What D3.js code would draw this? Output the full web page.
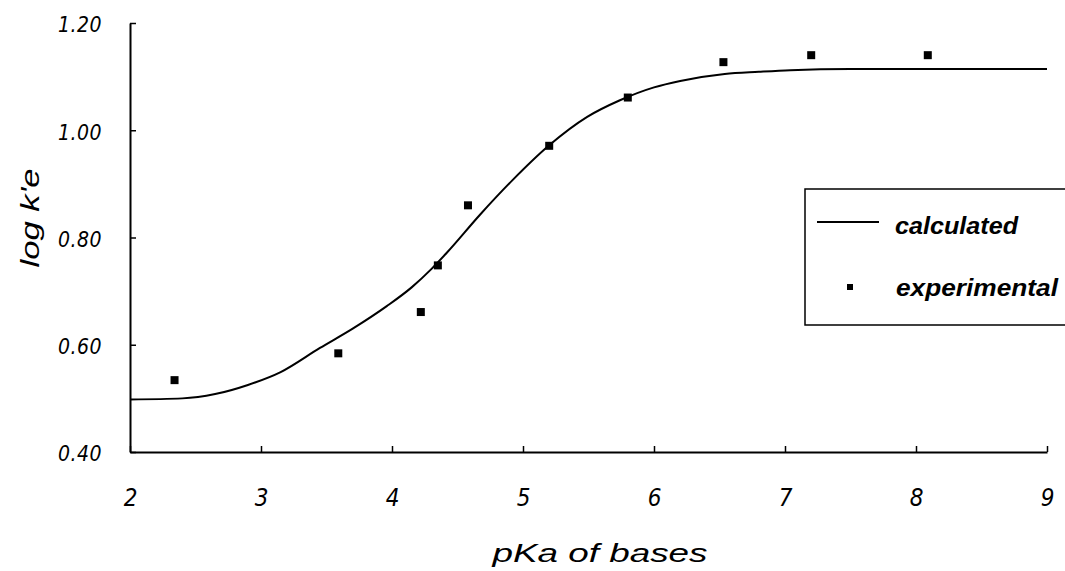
<!DOCTYPE html>
<html>
<head>
<meta charset="utf-8">
<script src="https://cdn.jsdelivr.net/npm/d3@7"></script>
<style>
  body { margin: 0; background: #fff; }
  svg { display: block; }
  .narrow { font-family: "Liberation Sans Narrow", "DejaVu Sans Condensed", "Arial Narrow", sans-serif; font-style: italic; }
  .wide { font-family: "Liberation Sans", Arial, sans-serif; font-style: italic; }
</style>
</head>
<body>
<svg id="chart" width="1065" height="571"></svg>
<script>
// experimental points (pKa, log k'e)
const expPKa = [2.34, 3.59, 4.22, 4.35, 4.58, 5.20, 5.80, 6.53, 7.20, 8.09];
const expLogK = [0.534, 0.584, 0.661, 0.748, 0.860, 0.971, 1.061, 1.127, 1.140, 1.140];

// calculated curve
const calcPKa = [2.0, 2.4, 2.65, 2.9, 3.15, 3.45, 3.7, 3.96, 4.15, 4.3, 4.42, 4.67, 4.92, 5.2, 5.49, 5.74, 6.0, 6.2, 6.54, 6.8, 7.04, 7.5, 9.0];
const calcLogK = [0.498, 0.500, 0.508, 0.525, 0.549, 0.594, 0.630, 0.672, 0.707, 0.741, 0.772, 0.842, 0.907, 0.972, 1.025, 1.056, 1.080, 1.092, 1.105, 1.109, 1.112, 1.114, 1.114];

const xTicks = [2, 3, 4, 5, 6, 7, 8, 9];
const yTicks = [0.40, 0.60, 0.80, 1.00, 1.20];

const svg = d3.select("#chart");

const x = d3.scaleLinear().domain([2, 9]).range([130, 1047]);
const y = d3.scaleLinear().domain([0.4, 1.2]).range([452, 23]);

// axes
const xAxis = svg.append("g")
  .attr("transform", "translate(0,452)")
  .call(d3.axisBottom(x).tickValues(xTicks).tickFormat(d3.format("d"))
    .tickSizeInner(-6).tickSizeOuter(0).tickPadding(37));
xAxis.selectAll("text").attr("class", "narrow").attr("font-size", 24).attr("fill", "#000");

const yAxis = svg.append("g")
  .attr("transform", "translate(130,0)")
  .call(d3.axisLeft(y).tickValues(yTicks).tickFormat(d3.format(".2f"))
    .tickSizeInner(-6).tickSizeOuter(0).tickPadding(28));
yAxis.selectAll("text").attr("class", "narrow").attr("font-size", 21)
  .attr("letter-spacing", 0.5).attr("dy", "0.42em").attr("fill", "#000");

svg.selectAll(".domain").attr("stroke", "#000").attr("stroke-width", 2);
svg.selectAll(".tick line").attr("stroke", "#000").attr("stroke-width", 1.5);

// calculated curve
const line = d3.line()
  .x(d => x(d[0]))
  .y(d => y(d[1]))
  .curve(d3.curveMonotoneX);

svg.append("path")
  .datum(calcPKa.map((p, i) => [p, calcLogK[i]]))
  .attr("d", line)
  .attr("fill", "none")
  .attr("stroke", "#000")
  .attr("stroke-width", 2);

// experimental points
const s = 8;
svg.selectAll("rect.pt")
  .data(expPKa.map((p, i) => [p, expLogK[i]]))
  .join("rect")
  .attr("class", "pt")
  .attr("x", d => x(d[0]) - s / 2)
  .attr("y", d => y(d[1]) - s / 2)
  .attr("width", s)
  .attr("height", s)
  .attr("fill", "#000");

// axis titles
svg.append("text")
  .attr("class", "wide")
  .attr("transform", "translate(39,218) rotate(-90)")
  .attr("text-anchor", "middle")
  .attr("font-size", 25)
  .attr("textLength", 99)
  .attr("lengthAdjust", "spacingAndGlyphs")
  .text("log k'e");

svg.append("text")
  .attr("class", "wide")
  .attr("x", 600)
  .attr("y", 562)
  .attr("text-anchor", "middle")
  .attr("font-size", 26)
  .attr("textLength", 215)
  .attr("lengthAdjust", "spacingAndGlyphs")
  .text("pKa of bases");

// legend
const lg = svg.append("g");
lg.append("path")
  .attr("d", "M1066,189 H805 V325 H1066")
  .attr("fill", "none")
  .attr("stroke", "#000")
  .attr("stroke-width", 1.5);
lg.append("line")
  .attr("x1", 817).attr("x2", 879)
  .attr("y1", 222).attr("y2", 222)
  .attr("stroke", "#000").attr("stroke-width", 2);
lg.append("rect")
  .attr("x", 847).attr("y", 284).attr("width", 6).attr("height", 6)
  .attr("fill", "#000");
lg.append("text")
  .attr("class", "wide")
  .attr("x", 895).attr("y", 234)
  .attr("font-size", 23).attr("font-weight", "bold")
  .attr("textLength", 123).attr("lengthAdjust", "spacingAndGlyphs")
  .text("calculated");
lg.append("text")
  .attr("class", "wide")
  .attr("x", 896).attr("y", 296)
  .attr("font-size", 23).attr("font-weight", "bold")
  .attr("textLength", 162).attr("lengthAdjust", "spacingAndGlyphs")
  .text("experimental");
</script>
</body>
</html>
